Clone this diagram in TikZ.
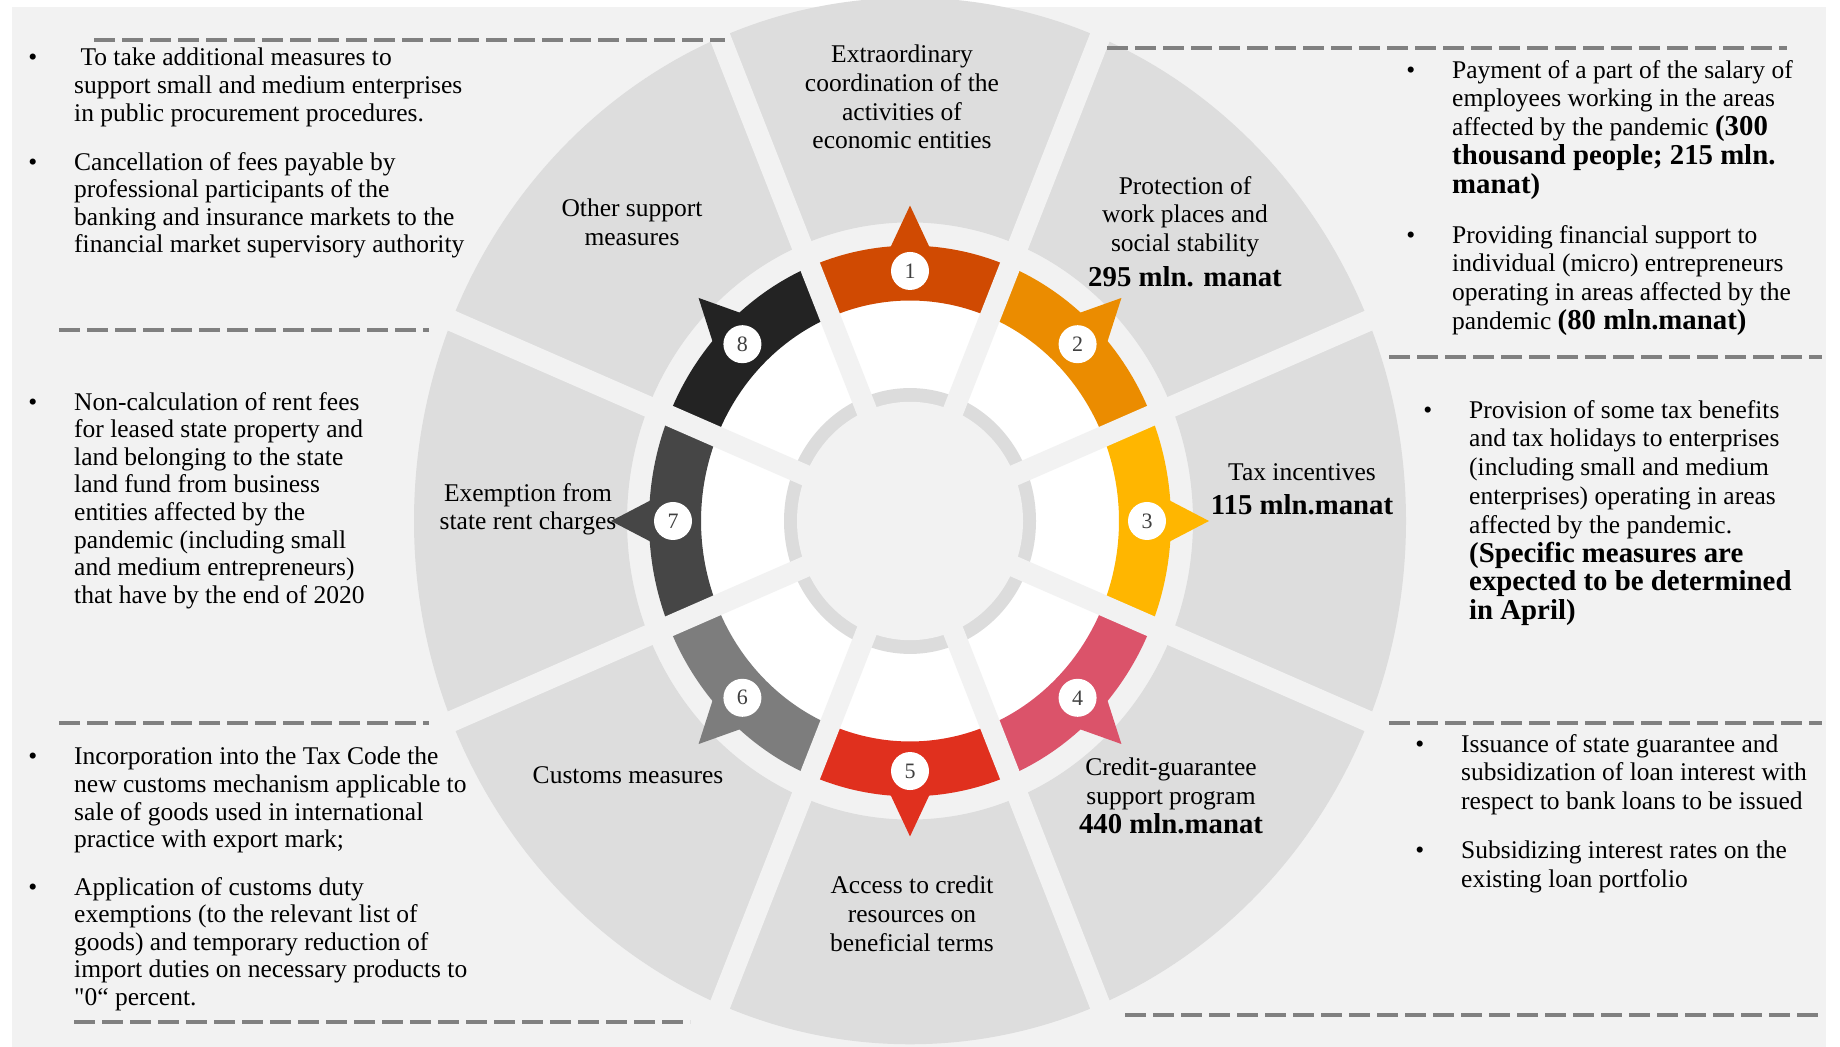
\documentclass[tikz,border=0pt]{standalone}
\usepackage{fontspec}
\setmainfont{Liberation Serif}[Ligatures=TeXOff]
\usetikzlibrary{calc}
\usetikzlibrary{positioning}

\definecolor{bgGray}{HTML}{F2F2F2}
\definecolor{sectGray}{HTML}{DDDDDD}
\definecolor{innerGray}{HTML}{DCDCDC}
\definecolor{dashGray}{HTML}{808080}
\definecolor{numGray}{HTML}{404040}
\definecolor{segA}{HTML}{D04A02}
\definecolor{segB}{HTML}{EB8C00}
\definecolor{segC}{HTML}{FFB600}
\definecolor{segD}{HTML}{DB536A}
\definecolor{segE}{HTML}{E0301E}
\definecolor{segF}{HTML}{7D7D7D}
\definecolor{segG}{HTML}{464646}
\definecolor{segH}{HTML}{232323}

\newcommand{\bul}{\llap{\textbullet\hspace{37pt}}}
\newcommand{\bnum}[1]{{\fontsize{28.8}{28.8}\selectfont\bfseries #1}}

\tikzset{
  txtL/.style={inner sep=0pt, anchor=north west, align=left, font=\fontsize{25.5}{27.6}\selectfont},
  txtR/.style={inner sep=0pt, anchor=north west, align=left, font=\fontsize{25.5}{28.8}\selectfont},
  lab/.style={inner sep=0pt, anchor=north, align=center, font=\fontsize{25.5}{28.7}\selectfont},
  badge/.style={circle, fill=white, minimum size=38pt, inner sep=0pt, text=numGray, font=\fontsize{22}{22}\selectfont},
  spoke/.style={draw=bgGray, line width=21pt},
  dashline/.style={draw=dashGray, line width=3.5pt, dash pattern=on 21pt off 7pt}
}

\begin{document}
\begin{tikzpicture}[x=1pt, y=1pt]
      \useasboundingbox (0,0) rectangle (1840,1047);
      \fill[bgGray] (12,0) rectangle (1826,1040);

      \begin{scope}[shift={(910,526)}, yscale=1.055]
        \fill[sectGray, even odd rule] (0,0) circle (496) (0,0) circle (283);
        \fill[white] (0,0) circle (236);
        \fill[innerGray] (0,0) circle (126);
        \fill[bgGray] (0,0) circle (113);
        \foreach \c/\ang in {segA/90, segB/45, segC/0, segD/-45, segE/-90, segF/-135, segG/180, segH/135} {
          \fill[\c] (\ang-22.5:209) arc[start angle=\ang-22.5, end angle=\ang+22.5, radius=209]
            -- (\ang+22.5:261) arc[start angle=\ang+22.5, end angle=\ang-22.5, radius=261] -- cycle;
          \fill[\c] (\ang-5:255) -- (\ang:299) -- (\ang+5:255) -- cycle;
        }
        \foreach \ang in {22.5,67.5,...,337.5}
          \draw[spoke] (0,0) -- (\ang:505);
        \foreach \i in {1,...,8}
          \node[badge] (n\i) at ({90-45*(\i-1)}:237) {\i};
      \end{scope}

      \node[lab] (lab1) at (902,1002) {Extraordinary\\coordination of the\\activities of\\economic entities};
      \node[lab] (lab2) at (1185,871) {Protection of\\work places and\\social stability\\[6pt]\bnum{295 mln. manat}};
      \node[lab] (lab3) at (1302,584) {Tax incentives\\[6pt]\bnum{115 mln.manat}};
      \node[lab] (lab4) at (1171,289) {Credit-guarantee\\support program\\\bnum{440 mln.manat}};
      \node[lab] (lab5) at (912,171) {Access to credit\\resources on\\beneficial terms};
      \node[lab] (lab6) at (628,281) {Customs measures};
      \node[lab] (lab7) at (528,564) {Exemption from\\state rent charges};
      \node[lab] (lab8) at (632,848) {Other support\\measures};

      \node[txtL] (tl1) at (74,999) {\bul\ To take additional measures to\\support small and medium enterprises\\in public procurement procedures.};
      \node[txtL] (tl2) at (74,895) {\bul Cancellation of fees payable by\\professional participants of the\\banking and insurance markets to the\\financial market supervisory authority};
      \node[txtL] (ml1) at (74,655) {\bul Non-calculation of rent fees\\for leased state property and\\land belonging to the state\\land fund from business\\entities affected by the\\pandemic (including small\\and medium entrepreneurs)\\that have by the end of 2020};
      \node[txtL] (bl1) at (74,300) {\bul Incorporation into the Tax Code the\\new customs mechanism applicable to\\sale of goods used in international\\practice with export mark;};
      \node[txtL] (bl2) at (74,170) {\bul Application of customs duty\\exemptions (to the relevant list of\\goods) and temporary reduction of\\import duties on necessary products to\\"0“ percent.};

      \node[txtR] (tr1) at (1452,987) {\bul Payment of a part of the salary of\\employees working in the areas\\affected by the pandemic \bnum{(300}\\\bnum{thousand people; 215 mln.}\\\bnum{manat)}};
      \node[txtR] (tr2) at (1452,822) {\bul Providing financial support to\\individual (micro) entrepreneurs\\operating in areas affected by the\\pandemic \bnum{(80 mln.manat)}};
      \node[txtR] (mr1) at (1469,647) {\bul Provision of some tax benefits\\and tax holidays to enterprises\\(including small and medium\\enterprises) operating in areas\\affected by the pandemic.\\\bnum{(Specific measures are}\\\bnum{expected to be determined}\\\bnum{in April)}};
      \node[txtR] (lr1) at (1461,313) {\bul Issuance of state guarantee and\\subsidization of loan interest with\\respect to bank loans to be issued};
      \node[txtR] (lr2) at (1461,206) {\bul Subsidizing interest rates on the\\existing loan portfolio};

      \draw[dashline] (94,1007) -- (725,1007);
      \draw[dashline] (59,717) -- (429,717);
      \draw[dashline] (59,324) -- (429,324);
      \draw[dashline] (74,25) -- (690,25);
      \draw[dashline] (1107,999) -- (1787,999);
      \draw[dashline] (1389,690) -- (1822,690);
      \draw[dashline] (1389,324) -- (1822,324);
      \draw[dashline] (1125,32) -- (1821,32);
    \end{tikzpicture}
\end{document}
